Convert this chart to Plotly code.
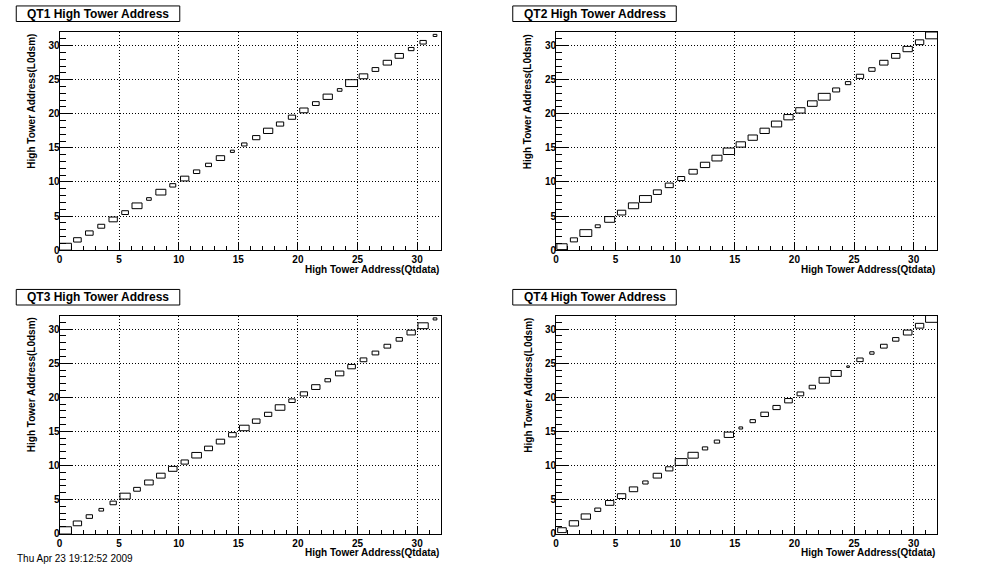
import plotly.graph_objects as go

# ---- data ----
bins = list(range(32))  # High Tower Address bins (0..31), diagonal entries
titles = ["QT1 High Tower Address", "QT2 High Tower Address",
          "QT3 High Tower Address", "QT4 High Tower Address"]
x_title = "High Tower Address(Qtdata)"
y_title = "High Tower Address(L0dsm)"
tick_vals = [0, 5, 10, 15, 20, 25, 30]
footer = "Thu Apr 23 19:12:52 2009"

# relative bin contents (fraction of maximum) along the diagonal
qt1 = [1.00, 0.64, 0.64, 0.58, 0.70, 0.56, 0.84, 0.39, 0.84, 0.50, 0.70, 0.53,
       0.50, 0.70, 0.33, 0.45, 0.61, 0.78, 0.61, 0.61, 0.70, 0.56, 0.78, 0.39,
       1.00, 0.72, 0.56, 0.70, 0.70, 0.47, 0.53, 0.31]
qt2 = [0.86, 0.59, 1.00, 0.42, 0.84, 0.70, 0.86, 1.00, 0.67, 0.67, 0.59, 0.70,
       0.78, 0.84, 0.95, 0.78, 0.78, 0.78, 0.86, 0.78, 0.78, 0.81, 1.00, 0.59,
       0.45, 0.61, 0.53, 0.70, 0.70, 0.78, 0.70, 1.00]
qt3 = [1.00, 0.70, 0.53, 0.39, 0.53, 0.86, 0.56, 0.72, 0.72, 0.72, 0.61, 0.81,
       0.67, 0.70, 0.64, 0.81, 0.64, 0.61, 0.81, 0.53, 0.61, 0.70, 0.47, 0.70,
       0.64, 0.56, 0.56, 0.56, 0.53, 0.70, 0.86, 0.31]
qt4 = [0.72, 0.78, 0.78, 0.50, 0.70, 0.70, 0.70, 0.45, 0.70, 0.61, 1.00, 0.86,
       0.45, 0.45, 0.78, 0.31, 0.45, 0.64, 0.61, 0.64, 0.56, 0.53, 0.86, 0.86,
       0.22, 0.53, 0.36, 0.56, 0.53, 0.72, 0.70, 1.00]
series = [qt1, qt2, qt3, qt4]

W, H = 996, 572
FONT = "Liberation Sans"

# plot-area pixel boxes (left, right, top, bottom)
pads = [(56.7, 439.3, 32.3, 252.3), (554.7, 937.3, 32.3, 252.3),
        (56.7, 439.3, 318.3, 538.3), (554.7, 937.3, 318.3, 538.3)]
title_boxes = [(13.3, 177.3, 6, 21.7), (511.3, 675.3, 6, 21.7),
               (13.3, 177.3, 292, 307.7), (511.3, 675.3, 292, 307.7)]

def px(x):
    return x / W

def py(y):
    return 1 - y / H

fig = go.Figure()
annotations = []
shapes = []

for k in range(4):
    xa = "x" if k == 0 else f"x{k+1}"
    ya = "y" if k == 0 else f"y{k+1}"
    xs, ys = [], []
    for b, f in zip(bins, series[k]):
        c = b + 0.5
        h = f / 2
        xs += [c - h, c + h, c + h, c - h, c - h, None]
        ys += [c - h, c - h, c + h, c + h, c - h, None]
    fig.add_trace(go.Scatter(x=xs, y=ys, mode="lines", xaxis=xa, yaxis=ya,
                             line=dict(color="black", width=1),
                             hoverinfo="skip", showlegend=False))
    l, r, t, b_ = pads[k]
    axis_common = dict(range=[0, 32], tickmode="array", tickvals=tick_vals,
                       showline=True, mirror=True, linecolor="black", linewidth=1,
                       showgrid=True, gridcolor="black", griddash="1px,2px", gridwidth=1,
                       zeroline=False, ticks="inside", tickcolor="black",
                       tickfont=dict(family=FONT, size=10, color="black", weight="bold"),
                       fixedrange=True)
    xkey = "xaxis" if k == 0 else f"xaxis{k+1}"
    ykey = "yaxis" if k == 0 else f"yaxis{k+1}"
    fig.layout[xkey] = dict(axis_common, domain=[px(l), px(r)], anchor=ya, ticklen=8,
                            minor=dict(dtick=1, tick0=0, ticks="inside", ticklen=4,
                                       tickcolor="black", showgrid=False))
    fig.layout[ykey] = dict(axis_common, domain=[py(b_), py(t)], anchor=xa, ticklen=12,
                            ticklabelstandoff=-3,
                            minor=dict(dtick=1, tick0=0, ticks="inside", ticklen=6,
                                       tickcolor="black", showgrid=False))
    # axis titles
    annotations.append(dict(text=x_title, xref="paper", yref="paper",
                            x=px(r), y=py(b_ + 19.5), xanchor="right", yanchor="middle",
                            showarrow=False,
                            font=dict(family=FONT, size=10, color="black", weight="bold")))
    annotations.append(dict(text=y_title, xref="paper", yref="paper", textangle=-90,
                            x=px(l - 28.5), y=py(t), xanchor="center", yanchor="top",
                            showarrow=False,
                            font=dict(family=FONT, size=10, color="black", weight="bold")))
    # title box
    tl, tr, tt, tb = title_boxes[k]
    shapes.append(dict(type="rect", xref="paper", yref="paper",
                       x0=px(tl), x1=px(tr), y0=py(tb), y1=py(tt),
                       line=dict(color="black", width=1), fillcolor="white"))
    annotations.append(dict(text=titles[k], xref="paper", yref="paper",
                            x=px((tl + tr) / 2), y=py((tt + tb) / 2),
                            xanchor="center", yanchor="middle", showarrow=False,
                            font=dict(family=FONT, size=12, color="black", weight="bold")))

annotations.append(dict(text=footer, xref="paper", yref="paper",
                        x=px(12), y=py(571), xanchor="left", yanchor="bottom",
                        showarrow=False,
                        font=dict(family=FONT, size=10, color="black")))

fig.update_layout(width=W, height=H, margin=dict(l=0, r=0, t=0, b=0),
                  paper_bgcolor="white", plot_bgcolor="white",
                  annotations=annotations, shapes=shapes, showlegend=False)

fig.write_html("out.html", config={"displayModeBar": False},
               post_script="document.body.style.margin='0';document.body.style.overflow='hidden';")
